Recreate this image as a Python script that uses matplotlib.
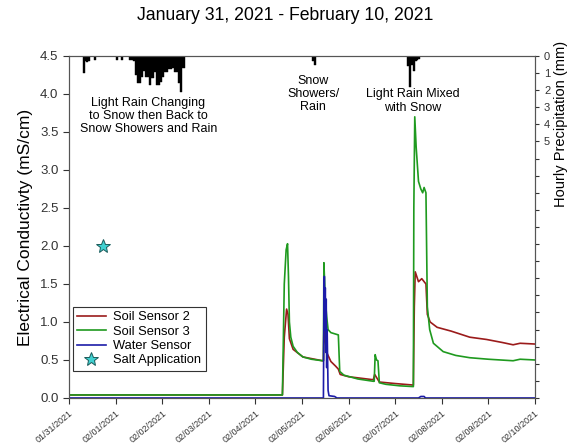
import pandas as pd
import numpy as np
import matplotlib
matplotlib.use("Agg")
import matplotlib.pyplot as plt

plt.rcParams['font.family'] = ['Liberation Sans', 'DejaVu Sans']

# === data ===
start = pd.Timestamp('2021-01-31')

# Soil Sensor 2 (days since 01/31 00:00, EC mS/cm)
s2_days = [0, 4.58, 4.62, 4.67, 4.70, 4.73, 4.81, 5.02, 5.44, 5.46, 5.47, 5.49, 5.53, 5.62,
           5.72, 5.78, 5.82, 6.0, 6.53, 6.56, 6.60, 6.66, 7.0, 7.39, 7.41, 7.43, 7.50, 7.57,
           7.66, 7.69, 7.75, 7.9, 8.2, 8.6, 8.96, 9.3, 9.53, 9.68, 10.0]
s2_ec = [0.04, 0.04, 0.8, 1.17, 1.1, 0.78, 0.64, 0.54, 0.49, 0.49, 0.9, 0.8, 0.6, 0.48,
         0.42, 0.38, 0.31, 0.28, 0.24, 0.31, 0.27, 0.21, 0.19, 0.17, 1.2, 1.66, 1.53, 1.57,
         1.5, 1.1, 1.0, 0.93, 0.88, 0.8, 0.77, 0.73, 0.70, 0.72, 0.71]

# Soil Sensor 3
s3_days = [0, 4.58, 4.62, 4.66, 4.69, 4.71, 4.73, 4.76, 4.81, 4.9, 5.02, 5.2, 5.44, 5.46,
           5.47, 5.50, 5.53, 5.56, 5.62, 5.78, 5.81, 5.9, 6.2, 6.53, 6.55, 6.57, 6.60, 6.63,
           6.66, 6.8, 7.1, 7.39, 7.40, 7.42, 7.45, 7.50, 7.55, 7.59, 7.62, 7.66, 7.69, 7.74,
           7.82, 8.03, 8.3, 8.6, 9.0, 9.53, 9.68, 10.0]
s3_ec = [0.04, 0.04, 1.5, 1.95, 2.03, 1.6, 1.0, 0.8, 0.68, 0.6, 0.54, 0.51, 0.49, 0.49,
         1.78, 1.3, 1.07, 0.9, 0.86, 0.83, 0.35, 0.30, 0.25, 0.22, 0.22, 0.57, 0.50, 0.49,
         0.20, 0.18, 0.16, 0.15, 2.5, 3.7, 3.3, 2.85, 2.75, 2.7, 2.77, 2.7, 1.2, 0.9,
         0.72, 0.61, 0.56, 0.53, 0.51, 0.49, 0.51, 0.50]

# Water Sensor
ws_days = [0, 5.46, 5.47, 5.48, 5.49, 5.50, 5.51, 5.52, 5.53, 5.54, 5.56, 5.58, 5.7, 5.75,
           7.5, 7.55, 7.62, 7.65, 10.0]
ws_ec = [0, 0, 1.2, 1.6, 0.9, 1.45, 0.6, 1.3, 0.4, 0.9, 0.1, 0.03, 0.02, 0,
         0, 0.02, 0.02, 0, 0]

# Salt application
salt_days = [0.73]
salt_ec = [2.0]

# Hourly precipitation (hour since 01/31 00:00, mm)
precip_hours = [7, 8, 9, 10, 13, 24, 27,
                31, 32, 33, 34, 35, 36, 37, 38, 39, 40, 41, 42, 43, 44, 45, 46, 47, 48,
                49, 50, 51, 52, 53, 54, 55, 56, 57, 58, 59,
                125, 126,
                174, 175, 176, 177, 178, 179, 180]
precip_mm = [1.0, 0.3, 0.35, 0.3, 0.25, 0.25, 0.25,
             0.25, 0.25, 0.3, 1.1, 1.6, 1.6, 1.2, 0.85, 1.2, 1.2, 1.7, 1.3, 1.3, 0.95, 1.7,
             1.7, 1.5, 1.2, 0.95, 0.95, 0.75, 0.75, 0.7, 0.95, 0.95, 1.6, 2.1, 0.7, 0.7,
             0.3, 0.5,
             0.6, 1.8, 0.55, 0.9, 0.3, 0.25, 0.2]

day_ticks = pd.date_range('2021-01-31', '2021-02-10', freq='D')
tick_labels = [d.strftime('%m/%d/%Y') for d in day_ticks]


def to_time(days):
    return start + pd.to_timedelta(days, unit='D')


# === plot ===
fig = plt.figure(figsize=(5.7, 4.43), dpi=100)
ax = fig.add_axes([0.121, 0.1016, 0.8176, 0.772])

ax.plot(to_time(s2_days), s2_ec, color='#9b1b1b', lw=1.2, label='Soil Sensor 2')
ax.plot(to_time(s3_days), s3_ec, color='#1f9a1f', lw=1.2, label='Soil Sensor 3')
ax.plot(to_time(ws_days), ws_ec, color='#1c1ca8', lw=1.2, label='Water Sensor')
ax.plot(to_time(salt_days), salt_ec, ls='none', marker='*', ms=10,
        mfc='#3fd0d0', mec='#1a5a5a', mew=0.7, label='Salt Application')

ax.set_xlim(day_ticks[0], day_ticks[-1])
ax.set_ylim(0, 4.5)
ax.set_yticks(np.arange(0, 4.51, 0.5))
ax.set_yticklabels([f'{v:.1f}' for v in np.arange(0, 4.51, 0.5)], fontsize=9.5)
ax.set_xticks(day_ticks)
ax.set_xticklabels(tick_labels, rotation=40, ha='right', rotation_mode='anchor', fontsize=6.5)
ax.set_ylabel('Electrical Conductivty (mS/cm)', fontsize=12.5, labelpad=5)
fig.suptitle('January 31, 2021 - February 10, 2021', fontsize=12.7, x=0.5, y=0.985)

for sp in ax.spines.values():
    sp.set_color('#555555')
ax.tick_params(colors='#333333', direction='out', length=4)

# precipitation on inverted right axis
ax2 = ax.twinx()
bar_x = to_time(np.array(precip_hours) / 24.0)
ax2.bar(bar_x, precip_mm, width=1 / 24.0, align='edge', color='black', edgecolor='black', lw=0.3)
ax2.set_ylim(20, 0)
ax2.set_yticks(np.arange(0, 21, 1))
ax2.set_yticklabels([str(i) if i <= 5 else '' for i in range(21)], fontsize=8)
ax2.tick_params(direction='out', length=3, colors='#333333')
ax2.set_ylabel('Hourly Precipitation (mm)', fontsize=10.5)
ax2.yaxis.set_label_coords(1.04, 0.80)
for sp in ax2.spines.values():
    sp.set_color('#555555')
ax2.set_xlim(day_ticks[0], day_ticks[-1])

# event annotations
ax.text(to_time(1.70), 3.71, 'Light Rain Changing\nto Snow then Back to\nSnow Showers and Rain',
        ha='center', va='center', fontsize=9, linespacing=1.15)
ax.text(to_time(5.24), 4.0, 'Snow\nShowers/\nRain', ha='center', va='center', fontsize=9,
        linespacing=1.15)
ax.text(to_time(7.38), 3.91, 'Light Rain Mixed\nwith Snow', ha='center', va='center', fontsize=9,
        linespacing=1.15)

leg = ax.legend(loc='lower left', bbox_to_anchor=(-0.006, 0.06), fontsize=9.3, fancybox=False,
                framealpha=1, edgecolor='#333333', handlelength=2.2, borderpad=0.35,
                labelspacing=0.18, handletextpad=0.6)
leg.get_frame().set_linewidth(0.8)
ax.set_zorder(ax2.get_zorder() + 1)
ax.patch.set_visible(False)

fig.savefig('out.png', dpi=100)
